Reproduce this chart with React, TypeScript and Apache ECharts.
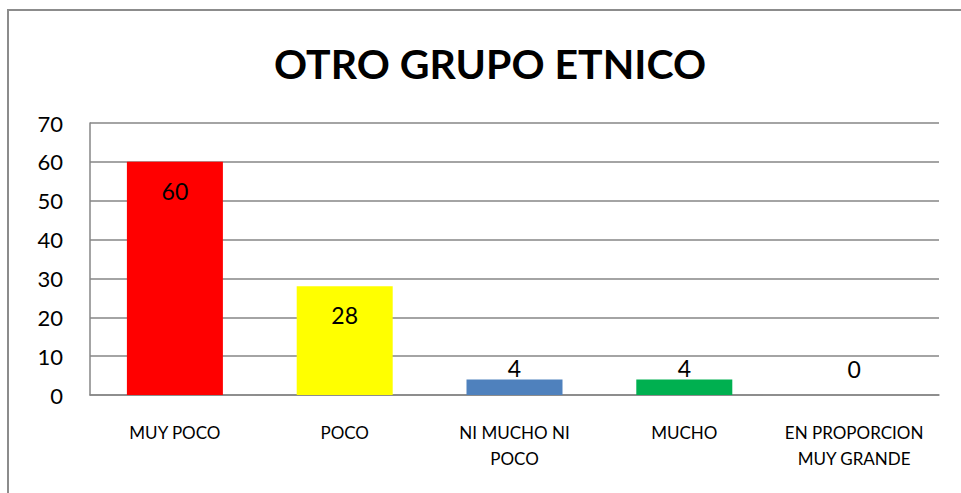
import React, { useEffect, useRef } from "react";
import * as echarts from "echarts";

const TITLE = "OTRO GRUPO ETNICO";
const categories = ["MUY POCO", "POCO", "NI MUCHO NI\nPOCO", "MUCHO", "EN PROPORCION\nMUY GRANDE"];
const values = [60, 28, 4, 4, 0];
const barColors = ["#FF0000", "#FFFF00", "#4F81BD", "#00B050", "#7F7F7F"];
const yTicks = { min: 0, max: 70, interval: 10 };

export default function App() {
  const ref = useRef<HTMLDivElement>(null);
  useEffect(() => {
    if (!ref.current) return;
    const chart = echarts.init(ref.current, null, { renderer: "svg" });
    const font = "Lato, 'Open Sans', sans-serif";
    const data = values.map((v, i) => {
      const inside = v > 10;
      return {
        value: v,
        itemStyle: { color: barColors[i] },
        label: inside
          ? { position: "insideTop", distance: 18 }
          : { position: "top", distance: v === 0 ? 15 : 0 },
      };
    });
    chart.setOption({
      animation: false,
      backgroundColor: "#ffffff",
      graphic: [
        {
          type: "rect",
          shape: { x: 8, y: 10, width: 1000, height: 1000 },
          style: { fill: "none", stroke: "#8c8c8c", lineWidth: 2 },
          silent: true,
        },
        {
          type: "text",
          x: 490,
          y: 63,
          style: {
            text: TITLE,
            font: `bold 41px ${font}`,
            fill: "#000000",
            textAlign: "center",
            textVerticalAlign: "middle",
          },
        },
      ],
      grid: { left: 90, right: 22, top: 123, bottom: 98, containLabel: false },
      xAxis: {
        type: "category",
        data: categories,
        axisLine: { show: true, lineStyle: { color: "#868686", width: 1.5 } },
        axisTick: { show: false },
        axisLabel: {
          color: "#000000",
          fontFamily: font,
          fontSize: 17,
          lineHeight: 26,
          margin: 24,
          interval: 0,
        },
      },
      yAxis: {
        type: "value",
        min: yTicks.min,
        max: yTicks.max,
        interval: yTicks.interval,
        axisLine: { show: true, lineStyle: { color: "#868686", width: 1.5 } },
        axisTick: { show: false },
        splitLine: { show: true, lineStyle: { color: "#868686", width: 1.5 } },
        axisLabel: {
          color: "#000000",
          fontFamily: font,
          fontSize: 22,
          margin: 27,
        },
      },
      series: [
        {
          type: "bar",
          data,
          barWidth: 96,
          label: {
            show: true,
            color: "#000000",
            fontFamily: font,
            fontSize: 23,
            lineHeight: 22,
          },
        },
      ],
    });
    return () => chart.dispose();
  }, []);
  return (
    <div
      ref={ref}
      style={{ position: "fixed", left: 0, top: 0, width: 961, height: 493 }}
    />
  );
}
